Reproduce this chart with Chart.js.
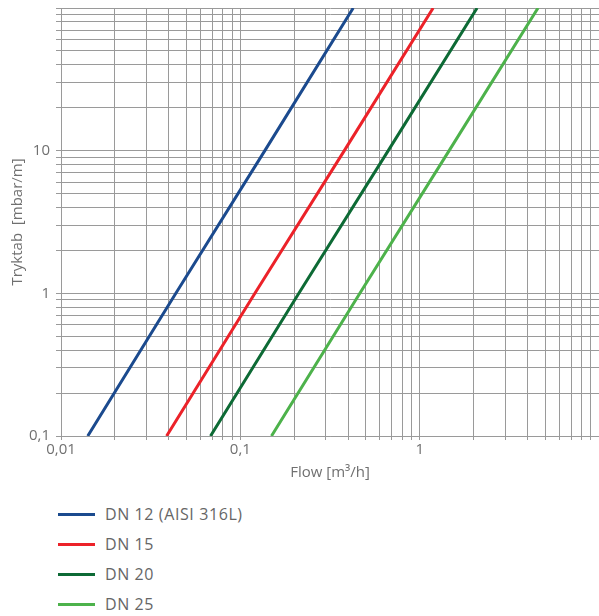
<!DOCTYPE html>
<html>
<head>
<meta charset="utf-8">
<script src="https://cdn.jsdelivr.net/npm/chart.js@4/dist/chart.umd.min.js"></script>
<style>
  html, body { margin: 0; padding: 0; background: #fff; }
  #wrap { position: absolute; left: 0; top: 0; width: 599px; height: 488px; }
  #legend { position: absolute; left: 58px; top: 499px; font-family: "Open Sans", sans-serif; font-size: 16px; letter-spacing: 0.6px; color: #666; }
  .item { height: 30px; display: flex; align-items: center; }
  .sw { width: 37px; height: 3px; margin-right: 10px; }
</style>
</head>
<body>
<div id="wrap"><canvas id="c"></canvas></div>
<div id="legend"></div>
<script>
// Pressure drop [mbar/m] at which flows were read
const pressure = [0.1, 1, 10, 100];
// Flow [m3/h] per series at those pressure drops
const dn12 = [0.0141, 0.0437, 0.137, 0.426];
const dn15 = [0.0388, 0.1206, 0.380, 1.189];
const dn20 = [0.0682, 0.212, 0.668, 2.09];
const dn25 = [0.1492, 0.464, 1.46, 4.57];
const seriesNames = ["DN 12 (AISI 316L)", "DN 15", "DN 20", "DN 25"];
const seriesColors = ["#1b4a8e", "#ec2229", "#0d6a35", "#4db24b"];
const xTickLabels = {0.01: "0,01", 0.1: "0,1", 1: "1"};
const yTickLabels = {0.1: "0,1", 1: "1", 10: "10"};

function logTicks(min, max) {
  const out = [];
  for (let e = Math.round(Math.log10(min)); e < Math.round(Math.log10(max)); e++) {
    for (let m = 1; m <= 9; m++) out.push(+(m * Math.pow(10, e)).toPrecision(3));
  }
  out.push(max);
  return out;
}

const allSeries = [dn12, dn15, dn20, dn25];
const datasets = allSeries.map((s, i) => ({
  label: seriesNames[i],
  data: s.map((q, j) => ({x: q, y: pressure[j]})),
  borderColor: seriesColors[i],
  backgroundColor: seriesColors[i],
  borderWidth: 3,
  pointRadius: 0,
  fill: false,
  tension: 0
}));

const gridColor = "#9a9a9a";
const font = {family: "'Open Sans', sans-serif", size: 15};

new Chart(document.getElementById("c"), {
  type: "line",
  data: {datasets},
  options: {
    responsive: true,
    maintainAspectRatio: false,
    animation: false,
    layout: {padding: {top: 8, right: 0, left: 0, bottom: 6}},
    plugins: {legend: {display: false}, tooltip: {enabled: false}},
    scales: {
      x: {
        type: "logarithmic",
        min: 0.01, max: 10,
        afterBuildTicks: s => { s.ticks = logTicks(0.01, 10).map(v => ({value: v})); },
        afterFit: s => { s.height = 46; s.paddingLeft = 0; s.paddingRight = 0; },
        ticks: {
          autoSkip: false, maxRotation: 0, color: "#707070", font, padding: 1,
          callback: v => xTickLabels[+v.toPrecision(3)] || ""
        },
        grid: {color: gridColor, lineWidth: 1, drawTicks: true, tickLength: 4, tickColor: gridColor},
        border: {color: gridColor},
        title: {display: true, text: "Flow [m³/h]", color: "#707070", font, padding: {top: 3, bottom: 0}}
      },
      y: {
        type: "logarithmic",
        min: 0.1, max: 100,
        afterBuildTicks: s => { s.ticks = logTicks(0.1, 100).map(v => ({value: v})); },
        afterFit: s => { s.width = 61; s.paddingTop = 0; s.paddingBottom = 0; },
        ticks: {
          autoSkip: false, color: "#707070", font, padding: 6,
          callback: v => yTickLabels[+v.toPrecision(3)] || ""
        },
        grid: {color: gridColor, lineWidth: 1, drawTicks: true, tickLength: 5, tickColor: gridColor},
        border: {color: gridColor},
        title: {display: true, text: "Tryktab  [mbar/m]", color: "#707070", font, padding: {top: 9, bottom: 0}}
      }
    }
  }
});

const legend = document.getElementById("legend");
seriesNames.forEach((n, i) => {
  const d = document.createElement("div");
  d.className = "item";
  d.innerHTML = '<span class="sw" style="background:' + seriesColors[i] + '"></span><span>' + n + '</span>';
  legend.appendChild(d);
});
</script>
</body>
</html>
